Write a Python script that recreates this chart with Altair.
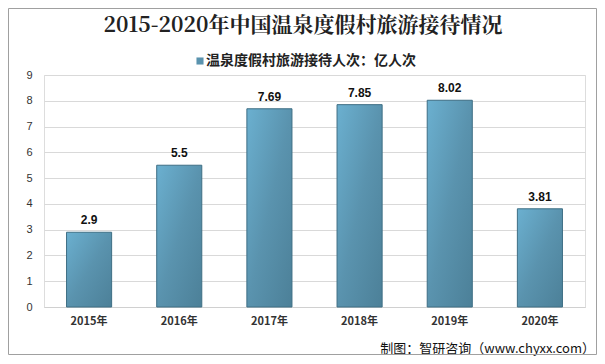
import altair as alt
import pandas as pd

years = ["2015年", "2016年", "2017年", "2018年", "2019年", "2020年"]
values = [2.9, 5.5, 7.69, 7.85, 8.02, 3.81]
labels = ["2.9", "5.5", "7.69", "7.85", "8.02", "3.81"]
title_text = "2015-2020年中国温泉度假村旅游接待情况"
legend_text = "温泉度假村旅游接待人次：亿人次"
source_text = "制图：智研咨询（www.chyxx.com）"

df = pd.DataFrame({"year": years, "value": values, "label": labels})

W, H = 541, 232
x = alt.X("year:N", sort=years, title=None,
          scale=alt.Scale(paddingInner=0.5, paddingOuter=0.25),
          axis=alt.Axis(labelAngle=0, labelFont="Noto Sans CJK SC", labelFontWeight="bold",
                        labelFontSize=11, labelColor="#333333", domainColor="#D0D0D0",
                        ticks=False, labelPadding=8))
y = alt.Y("value:Q", title=None,
          scale=alt.Scale(domain=[0, 9]),
          axis=alt.Axis(values=list(range(10)), labelFontSize=11, labelColor="#333333",
                        labelFont="Liberation Sans", domain=False, ticks=False,
                        gridColor="#D9D9D9", labelPadding=12))

grad = alt.Gradient(gradient="linear", x1=0, y1=0, x2=1, y2=1,
                    stops=[alt.GradientStop(color="#6BB0D0", offset=0),
                           alt.GradientStop(color="#5A93AE", offset=0.5),
                           alt.GradientStop(color="#4C8098", offset=1)])

base = alt.Chart(df)
bars = base.mark_bar(color=grad, stroke="#3E6E84", strokeWidth=1).encode(x=x, y=y)
text = base.mark_text(dy=-12, fontSize=12, fontWeight="bold", font="Liberation Sans",
                      color="#111111").encode(x=x, y=y, text="label:N")

one = pd.DataFrame({"t": [0]})
title = alt.Chart(pd.DataFrame({"t": [title_text]})).mark_text(
    align="center", baseline="middle", fontSize=21, fontWeight="bold",
    font="Noto Serif CJK SC, Noto Sans CJK SC", color="#222222").encode(
    x=alt.value(259), y=alt.value(-49), text="t:N")
legend_sq = alt.Chart(one).mark_square(
    size=50, color="#5A93AE", opacity=1).encode(x=alt.value(156), y=alt.value(-14))
legend_tx = alt.Chart(pd.DataFrame({"t": [legend_text]})).mark_text(
    align="left", baseline="middle", fontSize=14, fontWeight="bold",
    font="Noto Sans CJK SC", color="#222222").encode(
    x=alt.value(162), y=alt.value(-14), text="t:N")
source = alt.Chart(pd.DataFrame({"t": [source_text]})).mark_text(
    align="right", baseline="middle", fontSize=13, font="Noto Sans CJK SC",
    color="#111111").encode(x=alt.value(551), y=alt.value(274), text="t:N")
border = alt.Chart(one).mark_rect(
    fill=None, stroke="#A0A0A0", strokeWidth=1).encode(
    x=alt.value(-35.5), x2=alt.value(W + 11.5), y=alt.value(-66.5), y2=alt.value(H + 47.5))

chart = alt.layer(bars, text, title, legend_sq, legend_tx, source, border).properties(
    width=W, height=H,
    autosize="none",
    padding={"left": 36, "top": 67, "right": 12, "bottom": 49},
).configure_view(stroke=None).configure(background="white")

chart.save("out.html", embed_options={"renderer": "svg", "actions": False})
